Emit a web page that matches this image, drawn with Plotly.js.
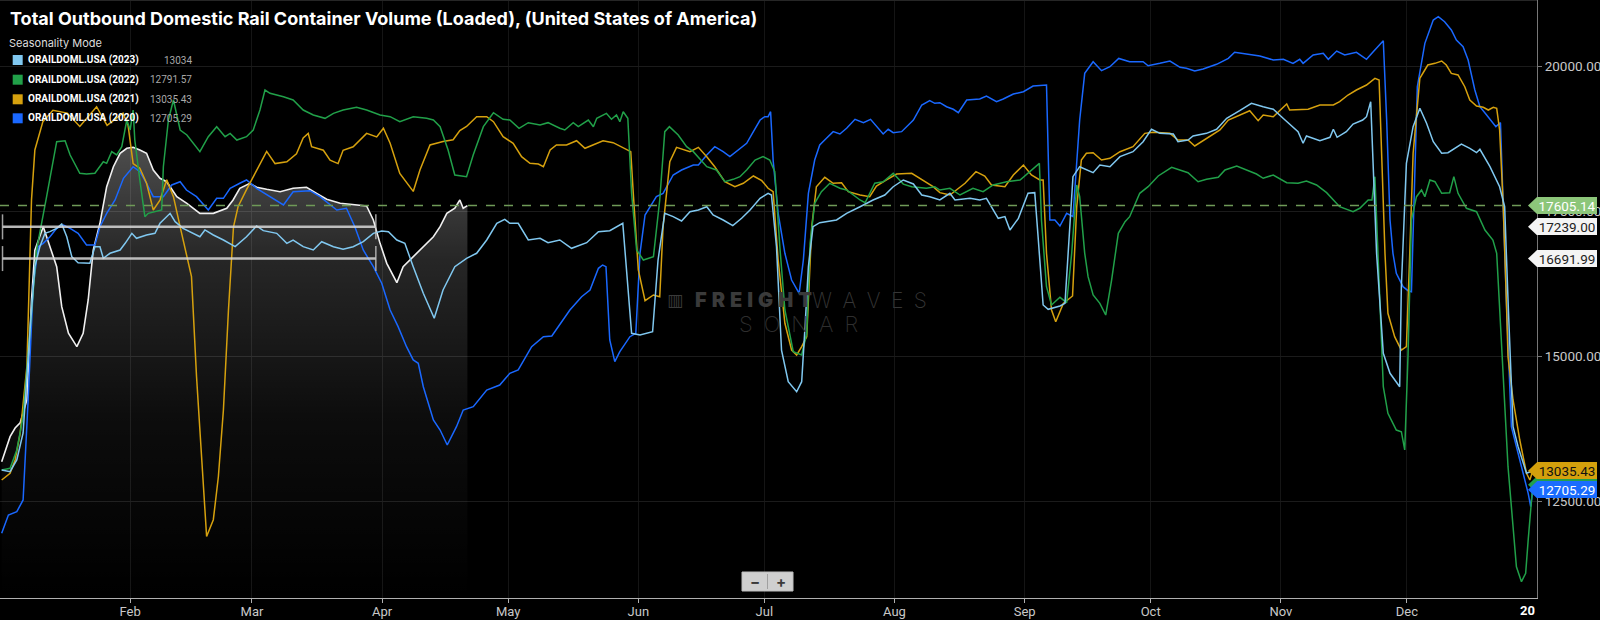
<!DOCTYPE html>
<html><head><meta charset="utf-8">
<script src="https://cdn.plot.ly/plotly-3.0.1.min.js"></script>
<style>html,body{margin:0;padding:0;background:#000;overflow:hidden}#chart{width:1600px;height:620px}</style>
</head><body><div id="chart"></div>
<script>
// ---------- DATA (day of year, value) ----------
const monthStarts = [31,60,91,121,152,182,213,244,274,305,335];
const monthLabels = ['Feb','Mar','Apr','May','Jun','Jul','Aug','Sep','Oct','Nov','Dec'];
const yTicks = [12500,15000,17500,20000];

const s2024 = [[0.4,13190],[2.4,13621],[3.6,13771],[4.8,13862],[6.4,14254],[7.5,15978],[8.3,16838],[10.3,17242],[11.9,16897],[13.5,16552],[14.7,15862],[16.3,15404],[18.3,15173],[19.8,15404],[21,15978],[22.2,16838],[23.8,17300],[25.4,17931],[27,18276],[28.6,18507],[30.2,18593],[31.7,18610],[33.3,18564],[34.9,18507],[36.5,18219],[38.1,18076],[39.7,18017],[42.1,17759],[44.5,17645],[47.6,17472],[50.8,17472],[54,17559],[55.5,17702],[57.1,17904],[59.5,17990],[61.1,17921],[63.5,17886],[66.7,17845],[69.8,17904],[73,17921],[75.4,17817],[77.8,17714],[81,17645],[84.1,17616],[87.3,17599],[88.9,17357],[90.5,16954],[92.1,16610],[94.5,16276],[96,16552],[98.4,16724],[100.8,16897],[103.2,17069],[104.8,17242],[106.4,17472],[108.3,17559],[109.5,17702],[110.3,17559],[111.3,17605.14]];

const s2023 = [[0.4,13047],[2.4,13018],[4,13220],[5.5,13685],[7.1,15408],[8.3,16552],[9.5,16897],[10.7,17127],[11.9,17156],[13.5,17214],[14.7,17288],[15.9,17069],[17.1,16724],[18.6,16621],[21.4,16610],[22.6,16897],[23.8,16897],[24.6,16697],[26.2,16783],[28.6,16840],[29.8,16955],[31.4,17127],[32.5,17041],[34.9,17099],[36.9,17127],[38.1,17300],[40.5,17472],[41.7,17328],[43.6,17214],[46,17127],[47.6,17069],[48.8,17185],[50.8,17099],[53.2,17012],[56,16897],[58.7,17069],[61.1,17254],[62.7,17173],[65.9,17127],[68.3,16955],[69.8,17012],[72.2,16897],[74.6,16840],[76.6,16983],[79.4,16897],[81.7,16852],[84.1,16897],[86.5,16983],[88.9,17127],[90.9,17167],[92.5,17156],[94.5,17012],[96.4,16955],[98.4,16552],[100.8,16093],[103.4,15662],[105.5,16150],[108.3,16552],[111.1,16697],[113.5,16783],[115.9,17012],[118.3,17300],[120.2,17369],[121.4,17300],[123.4,17300],[125.8,17012],[128.6,17041],[130.5,16966],[133.3,17012],[136.1,16869],[139.7,16966],[142.5,17156],[145.2,17173],[148.3,17300],[149.6,16093],[150.4,15404],[152.4,15374],[155.4,15431],[156.7,16667],[158.3,17472],[160.3,17415],[162.3,17340],[164.3,17500],[166.3,17530],[168.3,17586],[169.8,17443],[172.2,17357],[174.5,17259],[176.6,17386],[178.6,17530],[181,17731],[182.9,17817],[183.7,17788],[184.9,16897],[186.1,15115],[187.7,14569],[189.7,14396],[190.9,14569],[191.7,15518],[192.5,16552],[193.6,17242],[195.2,17311],[199.2,17357],[201.6,17472],[204.8,17586],[207.9,17702],[210.7,17788],[212.7,17931],[215.1,18047],[217.5,17978],[219.5,17788],[221.4,17759],[223.8,17702],[226.2,17817],[227.4,17702],[231,17731],[233.3,17702],[234.9,17731],[237.7,17386],[239.3,17415],[240.5,17185],[242.5,17386],[244.8,17817],[246.4,17828],[247.2,17069],[248.4,15892],[249.6,15817],[252.4,15874],[253.6,15920],[254.8,17357],[255.5,18104],[257.1,18276],[260.3,18173],[261.9,18305],[264.3,18276],[266.7,18449],[269.8,18535],[272.2,18707],[274.2,18921],[276.2,18851],[279.4,18840],[280.5,18707],[282.9,18736],[284.1,18805],[287.3,18851],[289.7,18921],[292.1,19110],[295.2,19241],[298,19369],[300.8,19310],[303.2,19266],[306,19081],[309.1,18880],[310.3,18680],[311.1,18805],[314.3,18724],[316.7,18783],[317.5,18921],[318.4,18783],[320.6,18880],[322.2,19012],[324.5,19081],[325.4,19138],[326.4,19397],[327,18391],[327.8,16783],[329.4,15058],[331,14714],[333.3,14483],[333.7,16207],[334.9,18333],[336.5,18966],[338.1,19283],[339.7,19024],[341.3,18707],[343.3,18507],[344.8,18518],[348,18667],[350,18593],[351.6,18518],[352.4,18576],[354.8,18276],[357.1,17931],[358.3,17586],[359.1,15978],[360.3,13794],[361.5,13449],[363.5,12990],[365,13034]];

const s2022 = [[0.4,13047],[2.4,13076],[4,13392],[5.5,13966],[7.1,15404],[8.7,16840],[11.1,17759],[13.5,18707],[15.5,18724],[16.7,18478],[19,18162],[20.6,18150],[22.6,18162],[23.8,18276],[24.6,18362],[25.4,18334],[26.6,18535],[27.8,18478],[29,18621],[30.2,19081],[31,18909],[31.7,19253],[32.1,18736],[33.3,18047],[34.5,17414],[35.3,17472],[38.5,17530],[38.9,18276],[40.1,19081],[41.3,19426],[42.9,18909],[44.5,18823],[47.6,18535],[49.6,18793],[51.6,18966],[53.6,18793],[54.8,18850],[56.4,18736],[58.7,18793],[60.3,18909],[61.9,19253],[63.1,19598],[64.3,19541],[67.5,19483],[69.8,19426],[72.2,19253],[74.6,19167],[77.4,19110],[79.4,19196],[81.7,19253],[84.9,19300],[87.3,19253],[90.5,19167],[92.9,19138],[95.2,19052],[98.4,19138],[101.6,19110],[103.2,19081],[104.8,18966],[106.7,18564],[108.3,18133],[111.1,18104],[112.7,18483],[115.1,18966],[117.5,19207],[119.8,19093],[121.4,19081],[123.6,18938],[125.8,19035],[128.6,18995],[130.5,19035],[133.3,18938],[134.5,18909],[136.5,19035],[137.7,18966],[140.1,19081],[141.3,18966],[142.1,19110],[144.4,19196],[145.6,19093],[146.8,19167],[147.6,19052],[148.4,19224],[149.5,19110],[150.4,17817],[151.6,16840],[153.2,16667],[155.6,16724],[157.1,17702],[158.3,18880],[159.4,18966],[161.5,18823],[163.5,18621],[165.1,18535],[168.3,18276],[170.6,18219],[172.6,18017],[174.6,18058],[176.2,18104],[177.8,18219],[179.8,18391],[181.7,18449],[183.3,18391],[184.5,18190],[185.7,16897],[186.9,15806],[188.9,15087],[190.9,15030],[192.1,15404],[192.9,16955],[194,17645],[195.6,17845],[197.6,17990],[200,17904],[201.6,17874],[204.8,17702],[206,17655],[208.3,17990],[210.3,18017],[212.7,18162],[215.1,17976],[217.1,17931],[220.6,17904],[222.6,17931],[223.8,17874],[226.2,17904],[228.6,17788],[231.7,17904],[234.1,17845],[236.5,17961],[239.7,18017],[242.9,18047],[245.2,18190],[247.5,18334],[248,17357],[249.2,16207],[250.4,15892],[252.4,16024],[254,15931],[255.2,16783],[256.4,17961],[257.1,17759],[258.3,16783],[259.1,16380],[260.3,16064],[261.9,15920],[263.3,15719],[264.7,16322],[266.3,17127],[267.9,17328],[269,17414],[271.4,17817],[273.4,17931],[275.8,18116],[279,18266],[282.9,18173],[285.3,18017],[287.3,18058],[290.1,18093],[291.7,18219],[294.5,18288],[296.8,18219],[299.2,18150],[300.8,18076],[303.2,18133],[306.4,18000],[309.1,17990],[311.1,18030],[313.5,17961],[315.9,17828],[319,17586],[322.2,17500],[323.8,17559],[325.8,17702],[326.7,17702],[327.4,18104],[327.8,17357],[328.6,15920],[329.4,14483],[330.5,14025],[332.5,13736],[333.7,13707],[334.5,13392],[335.3,15058],[336.1,17357],[337.3,17759],[338.5,17874],[339.3,17759],[340.5,18047],[341.7,18017],[343.3,17817],[345.2,17828],[346.2,18104],[347.2,17817],[349.2,17559],[351.6,17500],[353.6,17185],[355.5,17012],[356.4,16783],[357,15978],[359.1,13104],[360.3,12069],[361.1,11379],[362.3,11121],[363.3,11265],[363.9,11840],[365,12791.57]];

const s2021 = [[0.4,12874],[2.4,12990],[3.6,13219],[4.8,13679],[6.4,14828],[7.5,17702],[8.3,18564],[10.2,19050],[12.6,19250],[16,19200],[19,18970],[23,19310],[25.5,18990],[27.4,19100],[29.3,19200],[30.5,18990],[31.7,18330],[33.3,18250],[34.9,17990],[36.5,17530],[38.1,17700],[39.7,18050],[41.3,17760],[42.9,17240],[44.4,16780],[45.6,16380],[46.8,14660],[48,13220],[49.2,11900],[50.8,12190],[52,12930],[53.2,14080],[54.4,15800],[55.6,17240],[56.7,17590],[58.7,17880],[61.1,18220],[63.5,18540],[65.5,18330],[68.3,18360],[70.6,18500],[72.2,18770],[73.4,18850],[74.2,18620],[77,18560],[78.6,18390],[80.5,18330],[81.7,18560],[84.1,18620],[87.3,18850],[89.7,18790],[91.3,18940],[92.9,18680],[95.2,18160],[98.4,17850],[100,18220],[102.4,18650],[105.5,18710],[107.9,18740],[109.5,18900],[111.1,18970],[113.5,19138],[115.9,19138],[117.5,19052],[119.8,18793],[122.2,18679],[124.2,18449],[126.2,18334],[128.2,18322],[129.4,18276],[131,18564],[132.5,18650],[134.9,18650],[137.3,18724],[139.3,18593],[142.1,18679],[143.6,18724],[146,18690],[148.4,18593],[150.2,18535],[150.8,17817],[152,16495],[153.6,15966],[155.6,16064],[157.1,16035],[157.9,17242],[159.5,18362],[161.1,18610],[164.3,18535],[166.3,18610],[168.3,18449],[170.2,18276],[172.6,18017],[175,17931],[177,17990],[179.4,18116],[181.4,18035],[182.9,17904],[184.1,17845],[185.3,16667],[186.9,15576],[188.5,15115],[189.7,15030],[190.9,15173],[192.1,15345],[193.3,17242],[194.4,17931],[196.4,18093],[198.4,17990],[200.4,18000],[202,17845],[204.8,17788],[207.1,17759],[208.7,17943],[211.1,18047],[213.5,18150],[217.1,18162],[220.2,18017],[222.2,17931],[223.8,17828],[226.2,17788],[229.8,17990],[232.4,18190],[234.5,18116],[236.1,17961],[239.3,17931],[241.3,18133],[243.7,18305],[245.6,18133],[247.6,18047],[248.4,18047],[249.2,16783],[250.4,15805],[251.4,15603],[253.2,15920],[255.4,16047],[256.4,17586],[257.5,18391],[258.7,18507],[260.3,18518],[262.3,18391],[264.3,18420],[266.7,18535],[269.8,18621],[272.6,18851],[274.6,18869],[278.6,18851],[280.5,18736],[282.9,18736],[284.5,18633],[287.3,18765],[290.5,18909],[292.5,19081],[295.2,19167],[297.6,19241],[299.6,19069],[300.8,19167],[303.2,19138],[306.4,19357],[307.1,19253],[309.5,19266],[311.5,19266],[314.3,19340],[317.5,19340],[319,19397],[321,19512],[323,19598],[325.4,19684],[327.4,19799],[328.4,19770],[329,18507],[329.8,16783],[330.5,15748],[332.1,15345],[333.7,15115],[334.9,15173],[335.7,16783],[336.5,18507],[338.1,19799],[340,20029],[341.7,20058],[343.3,20098],[344.4,20029],[345.6,19885],[347.2,19857],[348.8,19655],[350,19426],[351.6,19322],[353.2,19300],[354.4,19253],[355.6,19300],[356.4,19283],[357.1,18909],[357.9,17702],[358.7,15978],[359.1,15000],[360.3,14254],[361.9,13564],[363.5,12990],[364.3,12874],[365,13035.43]];

const s2020 = [[0.4,11955],[2,12271],[4,12328],[5.5,12530],[6.7,14254],[7.9,16207],[9.1,16897],[10.3,16954],[11.9,17069],[13.5,17214],[15.1,17271],[16.7,17214],[18.6,17127],[20.6,16926],[22.6,16926],[23.8,17242],[25.4,17472],[27.4,17702],[29.4,18076],[31.7,18276],[33.3,18190],[34.9,17990],[36.5,17759],[38.9,17759],[40.9,17961],[42.9,18017],[44.4,17874],[46.8,17759],[49.6,17530],[51.6,17731],[53.2,17731],[54.8,17904],[57.1,17990],[58.7,18047],[61.1,17904],[64.3,17759],[67.5,17616],[69.8,17845],[73.8,17862],[76.2,17759],[78.6,17616],[80.2,17530],[82.5,17559],[84.5,17242],[86.5,16840],[88.9,16552],[90.9,16266],[92.9,15805],[94.8,15518],[96.8,15173],[98.4,14944],[99.6,14886],[100.8,14483],[103.2,13909],[104.8,13736],[106.5,13478],[108.7,13794],[110.3,14081],[112.7,14139],[115.9,14426],[119,14512],[121.4,14714],[123.4,14771],[126.6,15173],[129.4,15345],[131.4,15357],[135.7,15805],[138.5,16035],[140.5,16150],[142.5,16524],[143.5,16581],[144.3,16552],[145.2,15288],[146.4,14914],[147.6,15087],[150,15345],[151.4,15404],[152.4,16783],[153.6,17443],[155.2,17645],[156.3,17759],[157.9,17817],[160.3,18133],[162.3,18219],[165.1,18305],[166.3,18305],[168.3,18478],[170.2,18621],[172.2,18535],[173.8,18449],[175.8,18564],[177.8,18679],[179.4,18880],[181,19081],[182.1,19138],[182.9,19138],[183.5,19224],[184.1,18391],[185.3,17472],[186.9,16783],[188.5,16322],[190.3,16093],[191.3,16667],[192.5,17817],[194,18391],[195.2,18650],[196.8,18765],[198.4,18880],[200,18840],[201.6,18938],[203.6,19093],[205.6,19035],[207.3,19093],[210.3,18840],[211.5,18921],[212.7,18862],[214.7,18880],[217.5,19081],[219.5,19340],[221.4,19414],[222.6,19369],[223.8,19380],[225.4,19310],[227,19266],[228.2,19207],[230.2,19426],[233.3,19443],[234.9,19495],[237.3,19397],[238.9,19443],[241.3,19529],[243.7,19569],[246,19667],[249.2,19684],[250,17357],[251.2,17357],[252.4,17254],[254,17472],[255.5,17415],[257.1,19081],[258.3,19886],[260.3,20086],[262.3,19931],[264.3,20000],[266.4,20143],[269,20086],[272.2,20086],[273.4,20017],[276.2,20058],[278.6,20098],[281,19989],[282.5,19972],[284.5,19926],[286.5,19960],[289.7,20041],[292.5,20143],[294,20248],[296.8,20214],[300,20184],[303.2,20115],[305.6,20127],[307.9,20058],[309.5,20127],[310.3,20058],[312.7,20202],[315.1,20231],[316.3,20127],[318.3,20270],[320.2,20202],[323,20248],[325.4,20127],[327,20258],[329.4,20448],[330.2,19081],[331,17357],[331.7,16783],[332.5,16438],[334.1,16207],[335.3,16138],[336.1,16121],[336.9,17931],[337.5,19655],[339.3,20403],[341.3,20805],[342.5,20862],[344,20776],[345.6,20633],[346.8,20460],[348.4,20345],[349.6,20115],[351.2,19598],[352.4,19310],[354,19167],[356.2,18966],[357.3,19035],[357.9,17702],[358.7,15978],[359.9,13794],[361.9,13219],[363.9,12645],[364.5,12414],[365,12705.29]];

const legendNames  = ['ORAILDOML.USA (2023)','ORAILDOML.USA (2022)','ORAILDOML.USA (2021)','ORAILDOML.USA (2020)'];
const legendValues = ['13034','12791.57','13035.43','12705.29'];
const seriesColors = ['#80c8f0','#21a049','#d6a10e','#1a68ff'];
// end-of-year flags visible on the axis (2022, 2021, 2020; the 2023 one sits hidden under 2021's)
const flagValues   = [12791.57, 13035.43, 12705.29];
const flagColors   = ['#22a04b','#d4a00c','#1a6cff'];
const flagText     = ['#111','#111','#fff'];

const currentValue = 17605.14;
const refAverages  = [17239.00, 16691.99];
const refSpan      = [0.6, 89.5];

// ---------- helpers ----------
const Y_MIN = 10840, Y_MAX = 21150;
const PW = 1537, PH = 598;
const px = x => x / PW;
const py = y => 1 - y / PH;
const xs = s => s.map(p => p[0]);
const ys = s => s.map(p => p[1]);

const FONT = 'Inter, Roboto, "Noto Sans", sans-serif';

const traces = [
  // invisible baseline at the bottom of the axis so the gradient fill spans only the visible area
  {x: xs(s2024), y: xs(s2024).map(() => Y_MIN), mode: 'lines', line: {width: 0, color: 'rgba(0,0,0,0)'}, hoverinfo: 'skip'},
  {x: xs(s2024), y: ys(s2024), mode: 'lines', line: {color: '#f0f0f0', width: 1.6},
   fill: 'tonexty',
   fillgradient: {type: 'vertical', start: Y_MIN, stop: 18610,
     colorscale: [[0, 'rgba(255,255,255,0)'], [0.4, 'rgba(255,255,255,0.05)'], [0.75, 'rgba(255,255,255,0.15)'], [1, 'rgba(255,255,255,0.3)']]},
   hoverinfo: 'skip'},
  {x: xs(s2020), y: ys(s2020), mode: 'lines', line: {color: seriesColors[3], width: 1.5}, hoverinfo: 'skip'},
  {x: xs(s2021), y: ys(s2021), mode: 'lines', line: {color: seriesColors[2], width: 1.5}, hoverinfo: 'skip'},
  {x: xs(s2022), y: ys(s2022), mode: 'lines', line: {color: seriesColors[1], width: 1.5}, hoverinfo: 'skip'},
  {x: xs(s2023), y: ys(s2023), mode: 'lines', line: {color: seriesColors[0], width: 1.5}, hoverinfo: 'skip'}
];

const shapes = [];
const annotations = [];

// thin frame line at the top of the chart
shapes.push({type: 'line', xref: 'paper', yref: 'paper', x0: 0, x1: 1, y0: py(0.5), y1: py(0.5),
  line: {color: '#262626', width: 1}, layer: 'above'});

// current value dashed line
shapes.push({type: 'line', xref: 'paper', x0: 0, x1: 1, yref: 'y', y0: currentValue, y1: currentValue,
  line: {color: '#6f9a58', width: 1.5, dash: 'dash'}, layer: 'above'});

// average lines with end caps
refAverages.forEach(v => {
  shapes.push({type: 'line', xref: 'x', x0: refSpan[0], x1: refSpan[1], yref: 'y', y0: v, y1: v,
    line: {color: 'rgba(215,215,215,0.85)', width: 2.5}, layer: 'above'});
  refSpan.forEach(d => shapes.push({type: 'line', xref: 'x', x0: d, x1: d, yref: 'y',
    ysizemode: 'pixel', yanchor: v, y0: -12.5, y1: 12.5,
    line: {color: 'rgba(200,200,200,0.8)', width: 1.5}, layer: 'above'}));
});

// flags on the right axis
function addFlag(v, bg, fg) {
  shapes.push({type: 'path', xref: 'paper', xsizemode: 'pixel', xanchor: 1, yref: 'y',
    ysizemode: 'pixel', yanchor: v, path: 'M -9 0 L 0 8.5 L 0 -8.5 Z',
    fillcolor: bg, line: {width: 0}, layer: 'above'});
  annotations.push({xref: 'paper', x: 1, xanchor: 'left', yref: 'y', y: v, yanchor: 'middle',
    text: v.toFixed(2), showarrow: false, bgcolor: bg, bordercolor: bg, borderwidth: 1, borderpad: 1,
    width: 56, height: 13, align: 'center', font: {family: 'Roboto, sans-serif', size: 13.5, color: fg}});
}
flagValues.forEach((v, i) => addFlag(v, flagColors[i], flagText[i]));
addFlag(currentValue, '#8cc67a', '#ffffff');
refAverages.forEach(v => addFlag(v, '#f4f4f4', '#222'));

// title
annotations.push({xref: 'paper', yref: 'paper', x: px(8), y: py(19), xanchor: 'left', yanchor: 'middle',
  text: '<b>Total Outbound Domestic Rail Container Volume (Loaded), (United States of America)</b>',
  showarrow: false, font: {family: FONT, size: 18, color: '#ffffff'}});
annotations.push({xref: 'paper', yref: 'paper', x: px(7), y: py(43), xanchor: 'left', yanchor: 'middle',
  text: 'Seasonality Mode', showarrow: false, font: {family: FONT, size: 11, color: '#dddddd'}});

// legend
const legendRowsY = [60, 79.7, 99.3, 118.3];
legendNames.forEach((name, i) => {
  const yc = legendRowsY[i];
  shapes.push({type: 'rect', xref: 'paper', yref: 'paper', x0: px(12.7), x1: px(22.7),
    y0: py(yc - 5), y1: py(yc + 5), fillcolor: seriesColors[i], line: {width: 0}, layer: 'above'});
  annotations.push({xref: 'paper', yref: 'paper', x: px(25.5), y: py(yc), xanchor: 'left', yanchor: 'middle',
    text: '<b>' + name + '</b>', showarrow: false, font: {family: 'Roboto, sans-serif', size: 10, color: '#ffffff'}});
  annotations.push({xref: 'paper', yref: 'paper', x: px(194), y: py(yc), xanchor: 'right', yanchor: 'middle',
    text: legendValues[i], showarrow: false, font: {family: 'Roboto, sans-serif', size: 10, color: '#a8a8a8'}});
});

// watermark
annotations.push({xref: 'paper', yref: 'paper', x: px(814), y: py(300), xanchor: 'right', yanchor: 'middle',
  text: 'F\u2005R\u2005E\u2005I\u2005G\u2005H\u2005T', showarrow: false, font: {family: FONT, size: 20, color: '#3a3a3a', weight: 900}});
annotations.push({xref: 'paper', yref: 'paper', x: px(810), y: py(300), xanchor: 'left', yanchor: 'middle',
  text: 'W\u2002A\u2002V\u2002E\u2002S', showarrow: false, font: {family: FONT, size: 21, color: '#363636', weight: 200}});
annotations.push({xref: 'paper', yref: 'paper', x: px(675), y: py(300), xanchor: 'center', yanchor: 'middle',
  text: '▥', showarrow: false, font: {family: 'DejaVu Sans', size: 17, color: '#3a3a3a'}});
annotations.push({xref: 'paper', yref: 'paper', x: px(798), y: py(324), xanchor: 'center', yanchor: 'middle',
  text: 'S\u2002O\u2002N\u2002A\u2002R', showarrow: false, font: {family: FONT, size: 22, color: '#2e2e2e', weight: 200}});

// zoom control
shapes.push({type: 'rect', xref: 'paper', yref: 'paper', x0: px(742), x1: px(793), y0: py(572), y1: py(591),
  fillcolor: '#cfcfcf', line: {color: '#bdbdbd', width: 1}, layer: 'above'});
shapes.push({type: 'line', xref: 'paper', yref: 'paper', x0: px(767.5), x1: px(767.5), y0: py(574), y1: py(589),
  line: {color: '#a0a0a0', width: 1}, layer: 'above'});
annotations.push({xref: 'paper', yref: 'paper', x: px(755), y: py(581), xanchor: 'center', yanchor: 'middle',
  text: '<b>−</b>', showarrow: false, font: {family: FONT, size: 15, color: '#3a3a3a'}});
annotations.push({xref: 'paper', yref: 'paper', x: px(780.5), y: py(581), xanchor: 'center', yanchor: 'middle',
  text: '<b>+</b>', showarrow: false, font: {family: FONT, size: 15, color: '#3a3a3a'}});

// year label at end of x-axis
annotations.push({xref: 'paper', yref: 'paper', x: 1, y: py(610), xanchor: 'right', yanchor: 'middle',
  text: '<b>20</b>', showarrow: false, font: {family: 'Roboto, sans-serif', size: 13, color: '#ffffff'}});

const layout = {
  width: 1600, height: 620,
  paper_bgcolor: '#000000', plot_bgcolor: '#000000',
  margin: {l: 0, r: 63, t: 0, b: 22},
  showlegend: false,
  font: {family: 'Roboto, sans-serif', color: '#cccccc'},
  xaxis: {range: [0, 366], tickvals: monthStarts, ticktext: monthLabels,
    showgrid: true, gridcolor: '#151515', gridwidth: 1, zeroline: false,
    showline: true, linecolor: '#b0b0b0', linewidth: 1,
    ticks: 'outside', ticklen: 4, tickcolor: '#b0b0b0', ticklabelstandoff: -3,
    tickfont: {family: 'Roboto, sans-serif', size: 13, color: '#c8c8c8'}, fixedrange: true},
  yaxis: {side: 'right', range: [Y_MIN, Y_MAX], tickvals: yTicks, ticktext: yTicks.map(v => v.toFixed(2)),
    showgrid: true, gridcolor: '#1b1b1b', gridwidth: 1, zeroline: false,
    showline: true, linecolor: '#777777', linewidth: 1,
    ticks: 'outside', ticklen: 4, tickcolor: '#777777',
    tickfont: {family: 'Roboto, sans-serif', size: 13.5, color: '#c8c8c8'}, fixedrange: true},
  shapes: shapes,
  annotations: annotations
};

Plotly.newPlot('chart', traces, layout, {displayModeBar: false, staticPlot: true});
</script></body></html>
